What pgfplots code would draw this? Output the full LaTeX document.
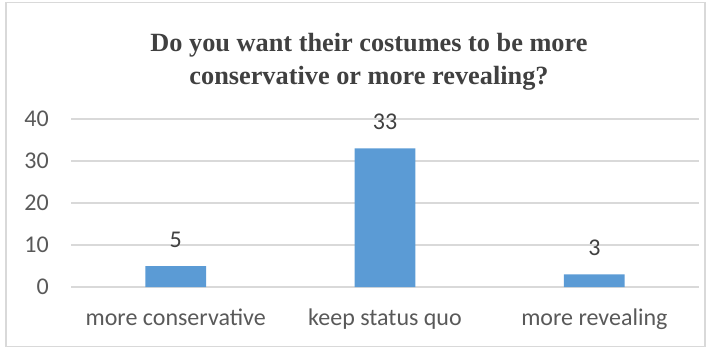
\documentclass[border=0pt]{standalone}
\usepackage{pgfplots}
\pgfplotsset{compat=1.18}
\usepackage{fontspec}
\setmainfont{Carlito}
\newfontfamily\titlefont{Liberation Serif}
\definecolor{barblue}{HTML}{5B9BD5}
\definecolor{gridgray}{HTML}{D9D9D9}
\definecolor{ticktext}{HTML}{595959}
\definecolor{titletext}{HTML}{404040}
\begin{document}
\begin{tikzpicture}
\path (0,0) rectangle (718bp,348bp);
\draw[gridgray, line width=1.2bp] (6bp,1.5bp) rectangle (705bp,345.5bp);
\node[anchor=base, font=\titlefont\bfseries\fontsize{26.3bp}{32bp}\selectfont, text=titletext, inner sep=0pt] at (369bp,296bp) {Do you want their costumes to be more};
\node[anchor=base, font=\titlefont\bfseries\fontsize{26.3bp}{32bp}\selectfont, text=titletext, inner sep=0pt] at (369bp,263bp) {conservative or more revealing?};
\begin{axis}[
  at={(71bp,61bp)}, anchor=south west,
  scale only axis, width=628bp, height=168bp,
  xmin=-0.5, xmax=2.5, ymin=0, ymax=40,
  ytick={0,10,20,30,40},
  xtick={0,1,2},
  xticklabels={more conservative, keep status quo, more revealing},
  axis line style={draw=none},
  major tick length=0pt,
  ymajorgrids, grid style={gridgray, line width=1.2bp},
  tick label style={font=\fontsize{24bp}{28bp}\selectfont, text=ticktext, inner sep=0pt},
  /pgf/number format/assume math mode=true,
  yticklabel style={anchor=east, xshift=-22bp},
  xticklabel style={anchor=base, yshift=-38bp},
  ybar, bar width=0.29,
  nodes near coords,
  every node near coord/.append style={font=\fontsize{24bp}{28bp}\selectfont, text=titletext, anchor=base, inner sep=0pt, yshift=19bp},
  clip=false,
]
\addplot[fill=barblue, draw=none] coordinates {(0,5) (1,33) (2,3)};
\end{axis}
\end{tikzpicture}
\end{document}
